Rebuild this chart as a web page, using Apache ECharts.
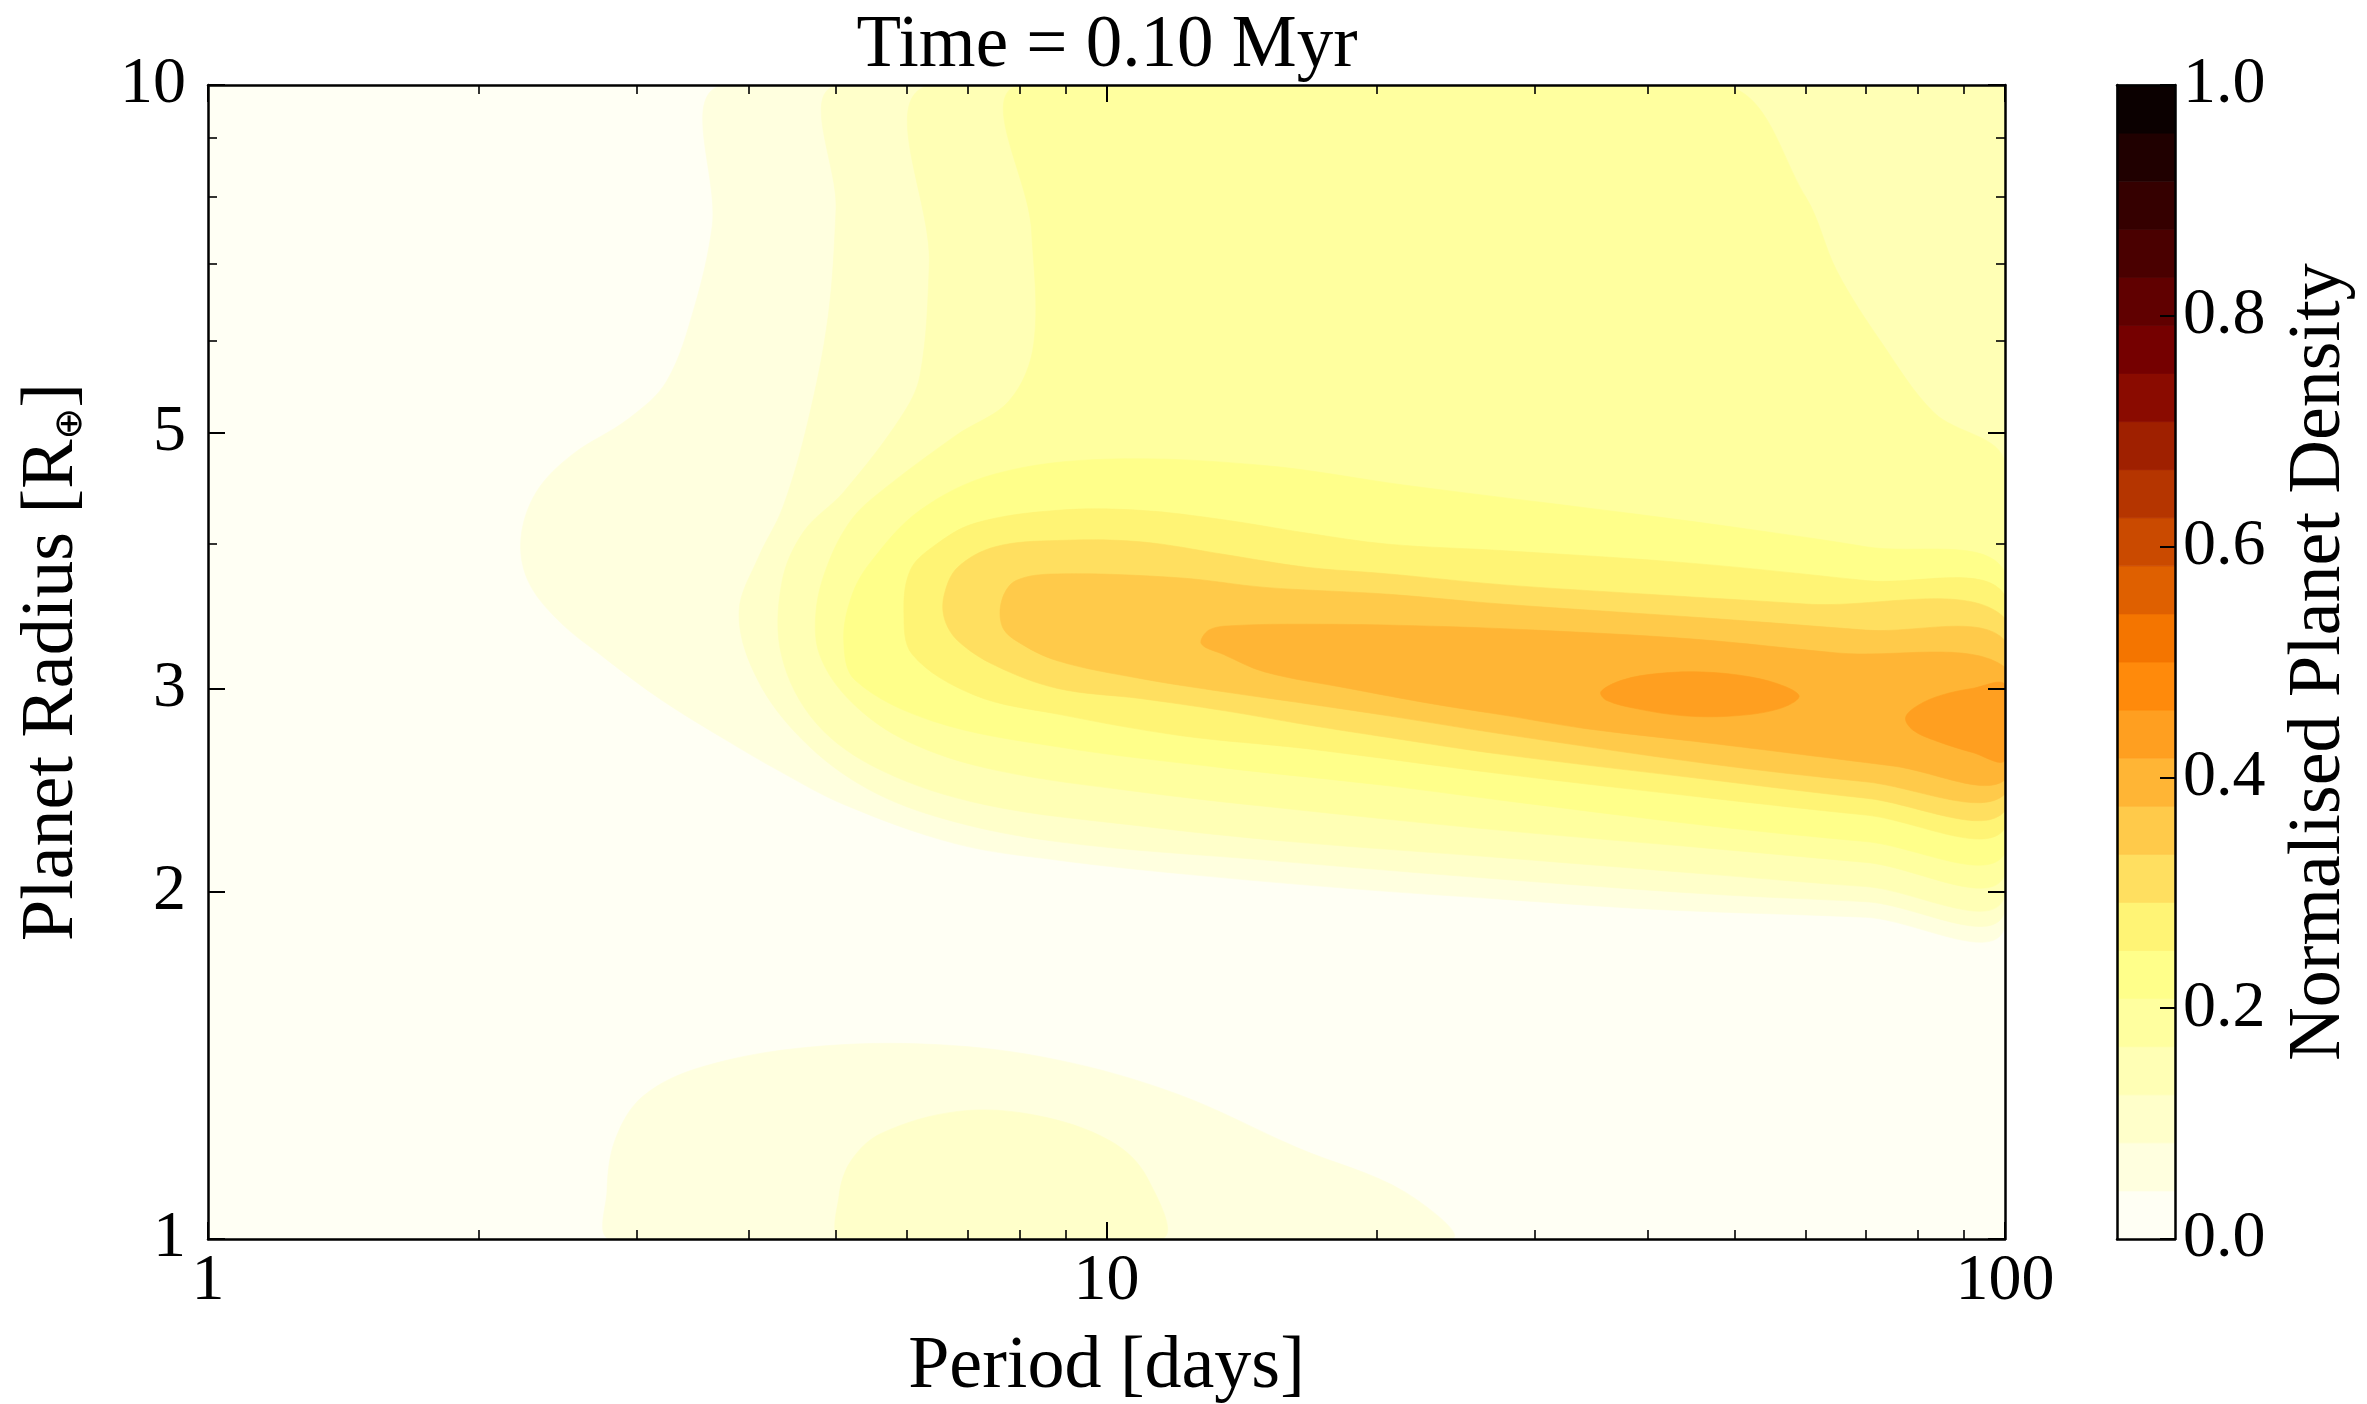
<!DOCTYPE html>
<html>
<head>
<meta charset="utf-8">
<script src="https://cdn.jsdelivr.net/npm/echarts@6/dist/echarts.min.js"></script>
<style>
html, body { margin: 0; padding: 0; background: #ffffff; }
#chart { width: 2367px; height: 1404px; }
</style>
</head>
<body>
<div id="chart"></div>
<script>
// ---------------- data ----------------
const titleText = 'Time = 0.10 Myr';
const periodTickLabels = [1, 10, 100];
const periodMinorTicks = [2, 3, 4, 5, 6, 7, 8, 9, 20, 30, 40, 50, 60, 70, 80, 90];
const radiusTickLabels = [1, 2, 3, 5, 10];
const radiusMinorTicks = [4, 6, 7, 8, 9];
const colorbarTicks = [0.0, 0.2, 0.4, 0.6, 0.8, 1.0];
const contourLevels = [0, 0.0417, 0.0833, 0.125, 0.1667, 0.2083, 0.25, 0.2917, 0.3333,
  0.375, 0.4167, 0.4583, 0.5, 0.5417, 0.5833, 0.625, 0.6667, 0.7083, 0.75, 0.7917,
  0.8333, 0.875, 0.9167, 0.9583, 1.0];

// Filled-contour regions: [period (days), radius (R_earth)]
// regionK = area where normalised density >= contourLevels[K]
const region1Main = [[3.76, 10], [100, 10], [100, 1.87], [70, 1.9], [41, 1.93], [27.5, 1.97],
  [19, 2.01], [12.3, 2.07], [8.8, 2.13], [6.8, 2.2], [5.1, 2.38], [4.3, 2.55], [3.76, 2.71],
  [3.2, 2.93], [2.76, 3.19], [2.45, 3.44], [2.27, 3.72], [2.23, 4.05], [2.32, 4.44],
  [2.54, 4.78], [2.94, 5.14], [3.24, 5.54], [3.48, 6.43], [3.64, 7.54]];
const region1Low = [[2.81, 1], [2.78, 1.10], [2.84, 1.22], [3.05, 1.33], [3.55, 1.41],
  [4.65, 1.466], [6.46, 1.474], [8.8, 1.43], [12.0, 1.335], [16.3, 1.20], [21.5, 1.098], [24.1, 1]];
const region2Main = [[5.04, 10], [100, 10], [100, 1.93], [70, 1.96], [47, 1.99], [27.5, 2.05],
  [15, 2.13], [8.8, 2.21], [6.5, 2.32], [5.3, 2.48], [4.5, 2.75], [4.05, 3.1], [3.9, 3.5],
  [4.1, 3.9], [4.36, 4.3], [4.65, 5.1], [4.9, 6.3], [5.0, 7.8]];
const region2Low = [[5.08, 1], [5.04, 1.091], [5.2, 1.17], [5.62, 1.235], [6.84, 1.29],
  [8.34, 1.28], [10.1, 1.216], [11.1, 1.13], [11.5, 1]];
const region3 = [[6.38, 10], [100, 10], [100, 1.99], [70, 2.02], [47, 2.07], [27.5, 2.14],
  [16, 2.21], [10.9, 2.28], [7.3, 2.38], [5.6, 2.55], [4.75, 2.8], [4.35, 3.2], [4.35, 3.7],
  [4.6, 4.1], [5.1, 4.44], [5.9, 5.15], [6.2, 5.6], [6.35, 7.0]];
const region4 = [[8.0, 10], [48.5, 10], [60, 8.0], [65, 6.9], [73, 5.97], [83.4, 5.2], [100, 4.7],
  [100, 2.07], [70, 2.12], [47, 2.18], [27.5, 2.26], [16.7, 2.35], [10.9, 2.44], [7.5, 2.55],
  [6.0, 2.7], [5.2, 2.92], [4.8, 3.2], [4.75, 3.5], [4.9, 3.85], [5.2, 4.2], [5.6, 4.44],
  [6.8, 4.97], [7.8, 5.33], [8.3, 5.97], [8.25, 7.5]];
const region5 = [[6.41, 2.81], [5.25, 3.05], [5.1, 3.3], [5.2, 3.6], [5.45, 3.85], [6.2, 4.28],
  [7.5, 4.6], [10, 4.74], [15, 4.68], [21.5, 4.5], [38.6, 4.25], [52, 4.12], [70, 3.98],
  [100, 3.78], [100, 2.16], [70, 2.21], [47, 2.28], [27.5, 2.40], [20.6, 2.47], [13.5, 2.56],
  [8.82, 2.67]];
const region6 = [[6.08, 3.21], [5.95, 3.5], [6.05, 3.8], [6.41, 3.98], [7.13, 4.17], [8.82, 4.28],
  [10.9, 4.28], [13.5, 4.2], [16.7, 4.09], [20.6, 4.0], [27.5, 3.95], [45, 3.85], [70, 3.72],
  [100, 3.61], [100, 2.27], [70, 2.33], [47, 2.41], [27.5, 2.53], [16.7, 2.66], [12.1, 2.73],
  [8.82, 2.85], [7.13, 2.96]];
const region7 = [[6.83, 3.30], [6.6, 3.45], [6.6, 3.62], [6.83, 3.82], [7.52, 3.98], [8.82, 4.03],
  [10.9, 4.02], [13.5, 3.92], [16.7, 3.82], [20.6, 3.77], [27.5, 3.69], [40, 3.62], [60, 3.55],
  [100, 3.45], [100, 2.35], [70, 2.41], [47, 2.50], [27.5, 2.63], [20.6, 2.72], [16.7, 2.79],
  [13.5, 2.87], [10.9, 2.94], [8.82, 3.0], [7.52, 3.14]];
const region8 = [[7.93, 3.30], [7.65, 3.4], [7.65, 3.58], [7.93, 3.72], [8.82, 3.77], [12.1, 3.74],
  [15.0, 3.67], [20.6, 3.62], [27.5, 3.55], [47, 3.45], [70, 3.37], [100, 3.30], [100, 2.43],
  [70, 2.49], [47, 2.58], [27.5, 2.74], [20.6, 2.84], [16.7, 2.91], [13.5, 2.98], [10.9, 3.06],
  [8.82, 3.17]];
const region9 = [[13.5, 3.21], [12.75, 3.28], [13.0, 3.37], [13.8, 3.40], [16.7, 3.41], [22, 3.40],
  [30, 3.37], [45, 3.31], [65, 3.22], [100, 3.13], [100, 2.50], [75, 2.57], [57, 2.64], [45, 2.70],
  [34, 2.77], [28, 2.84], [23, 2.91], [18.6, 3.0], [15, 3.1]];
const region10Mid = [[35.5, 2.98], [37.5, 3.05], [41, 3.09], [46, 3.10], [52, 3.07], [57, 3.01],
  [59, 2.95], [56, 2.88], [50, 2.84], [44, 2.84], [39, 2.88], [36, 2.93]];
const region10Edge = [[100, 3.02], [92, 3.0], [85, 2.96], [80, 2.9], [77.5, 2.83], [79, 2.76],
  [84, 2.7], [92, 2.64], [100, 2.6]];

const regions = [
  { level: 1, points: region1Main }, { level: 1, points: region1Low },
  { level: 2, points: region2Main }, { level: 2, points: region2Low },
  { level: 3, points: region3 }, { level: 4, points: region4 }, { level: 5, points: region5 },
  { level: 6, points: region6 }, { level: 7, points: region7 }, { level: 8, points: region8 },
  { level: 9, points: region9 }, { level: 10, points: region10Mid }, { level: 10, points: region10Edge }
];

// ---------------- style ----------------
function afmhotR(v) {
  const x = 1 - v;
  const c = t => Math.round(255 * Math.min(1, Math.max(0, t)));
  return 'rgb(' + c(2 * x) + ',' + c(2 * x - 0.5) + ',' + c(2 * x - 1) + ')';
}
function bandColor(k) { return afmhotR((contourLevels[k] + contourLevels[k + 1]) / 2); }

const FONT = 'Liberation Serif';
const TICK_FS = 66, NAME_FS = 74;
const lg = v => Math.log10(v);
const frameLine = { color: '#000', width: 2.5 };
const majorTick = vals => ({ show: true, inside: true, length: 17, customValues: vals, lineStyle: { color: '#000', width: 2 } });
const minorTick = vals => ({ show: true, inside: true, length: 9, customValues: vals, lineStyle: { color: '#000', width: 1.6 } });
function axis(extra) {
  return Object.assign({
    type: 'value', z: 10, splitLine: { show: false },
    axisLine: { show: false, onZero: false },
    axisTick: { show: false }, axisLabel: { show: false }
  }, extra);
}
const tickLabelStyle = { fontFamily: FONT, fontSize: TICK_FS, color: '#000' };
const fmtPow = v => String(Math.round(Math.pow(10, v)));

const option = {
  animation: false,
  backgroundColor: '#ffffff',
  textStyle: { fontFamily: FONT },
  title: {
    text: titleText, left: 1107, top: 10, textAlign: 'center', padding: 0,
    textStyle: { fontFamily: FONT, fontSize: 73, fontWeight: 'normal', color: '#000' }
  },
  grid: [
    { left: 208, top: 85, width: 1797, height: 1154, show: true, backgroundColor: bandColor(0),
      borderWidth: 0, containLabel: false, outerBoundsMode: 'none' },
    { left: 2117, top: 85, width: 58, height: 1154, show: false, containLabel: false, outerBoundsMode: 'none' }
  ],
  xAxis: [
    axis({ gridIndex: 0, position: 'bottom', min: 0, max: 2,
      axisLine: { show: true, onZero: false, lineStyle: frameLine },
      axisTick: majorTick(periodTickLabels.map(lg)),
      axisLabel: Object.assign({ show: true, customValues: periodTickLabels.map(lg), formatter: fmtPow, margin: 10 }, tickLabelStyle),
      name: 'Period [days]', nameLocation: 'middle', nameGap: 92,
      nameTextStyle: { fontFamily: FONT, fontSize: NAME_FS, color: '#000' } }),
    axis({ gridIndex: 0, position: 'bottom', min: 0, max: 2, axisTick: minorTick(periodMinorTicks.map(lg)) }),
    axis({ gridIndex: 0, position: 'top', min: 0, max: 2,
      axisLine: { show: true, onZero: false, lineStyle: frameLine },
      axisTick: majorTick(periodTickLabels.map(lg)) }),
    axis({ gridIndex: 0, position: 'top', min: 0, max: 2, axisTick: minorTick(periodMinorTicks.map(lg)) }),
    axis({ gridIndex: 1, position: 'bottom', min: 0, max: 1, axisLine: { show: true, onZero: false, lineStyle: frameLine } }),
    axis({ gridIndex: 1, position: 'top', min: 0, max: 1, axisLine: { show: true, onZero: false, lineStyle: frameLine } })
  ],
  yAxis: [
    axis({ gridIndex: 0, position: 'left', min: 0, max: 1,
      axisLine: { show: true, onZero: false, lineStyle: frameLine },
      axisTick: majorTick(radiusTickLabels.map(lg)),
      axisLabel: Object.assign({ show: true, customValues: radiusTickLabels.map(lg), formatter: fmtPow, margin: 22 }, tickLabelStyle),
      name: 'Planet Radius [R{s|⊕}]', nameLocation: 'middle', nameGap: 118, nameRotate: 90,
      nameTextStyle: { fontFamily: FONT, fontSize: NAME_FS, color: '#000',
        rich: { s: { fontFamily: 'DejaVu Sans', fontSize: 38, color: '#000', verticalAlign: 'bottom', lineHeight: 60 } } } }),
    axis({ gridIndex: 0, position: 'left', min: 0, max: 1, axisTick: minorTick(radiusMinorTicks.map(lg)) }),
    axis({ gridIndex: 0, position: 'right', min: 0, max: 1,
      axisLine: { show: true, onZero: false, lineStyle: frameLine },
      axisTick: majorTick(radiusTickLabels.map(lg)) }),
    axis({ gridIndex: 0, position: 'right', min: 0, max: 1, axisTick: minorTick(radiusMinorTicks.map(lg)) }),
    axis({ gridIndex: 1, position: 'left', min: 0, max: 1, axisLine: { show: true, onZero: false, lineStyle: frameLine } }),
    axis({ gridIndex: 1, position: 'right', min: 0, max: 1,
      axisLine: { show: true, onZero: false, lineStyle: frameLine },
      axisTick: { show: true, inside: true, length: 15, customValues: colorbarTicks, lineStyle: { color: '#000', width: 2 } },
      axisLabel: Object.assign({ show: true, customValues: colorbarTicks, formatter: v => v.toFixed(1), margin: 8 }, tickLabelStyle),
      name: 'Normalised Planet Density', nameLocation: 'middle', nameGap: 108, nameRotate: 90,
      nameTextStyle: { fontFamily: FONT, fontSize: NAME_FS, color: '#000' } })
  ],
  series: [
    {
      type: 'custom', xAxisIndex: 0, yAxisIndex: 0, silent: true, clip: true, z: 2,
      data: regions.map(r => [lg(r.points[0][0]), lg(r.points[0][1])]),
      renderItem: function (params, api) {
        const r = regions[params.dataIndex];
        const pts = r.points.map(p => api.coord([lg(p[0]), lg(p[1])]));
        const cs = params.coordSys;
        const col = bandColor(r.level);
        return {
          type: 'polygon',
          shape: { points: pts, smooth: 0.35 },
          style: { fill: col, stroke: col, lineWidth: 0.6 },
          clipPath: { type: 'rect', shape: { x: cs.x, y: cs.y, width: cs.width, height: cs.height } }
        };
      }
    },
    {
      type: 'custom', xAxisIndex: 4, yAxisIndex: 4, silent: true, z: 2,
      data: contourLevels.slice(0, -1).map(lo => [0, lo]),
      renderItem: function (params, api) {
        const i = params.dataIndex;
        const p0 = api.coord([0, contourLevels[i]]);
        const p1 = api.coord([1, contourLevels[i + 1]]);
        const col = bandColor(i);
        return {
          type: 'rect',
          shape: { x: p0[0], y: p1[1], width: p1[0] - p0[0], height: p0[1] - p1[1] },
          style: { fill: col, stroke: col, lineWidth: 0.8 }
        };
      }
    }
  ]
};

const chart = echarts.init(document.getElementById('chart'), null, { renderer: 'canvas' });
chart.setOption(option);
</script>
</body>
</html>
